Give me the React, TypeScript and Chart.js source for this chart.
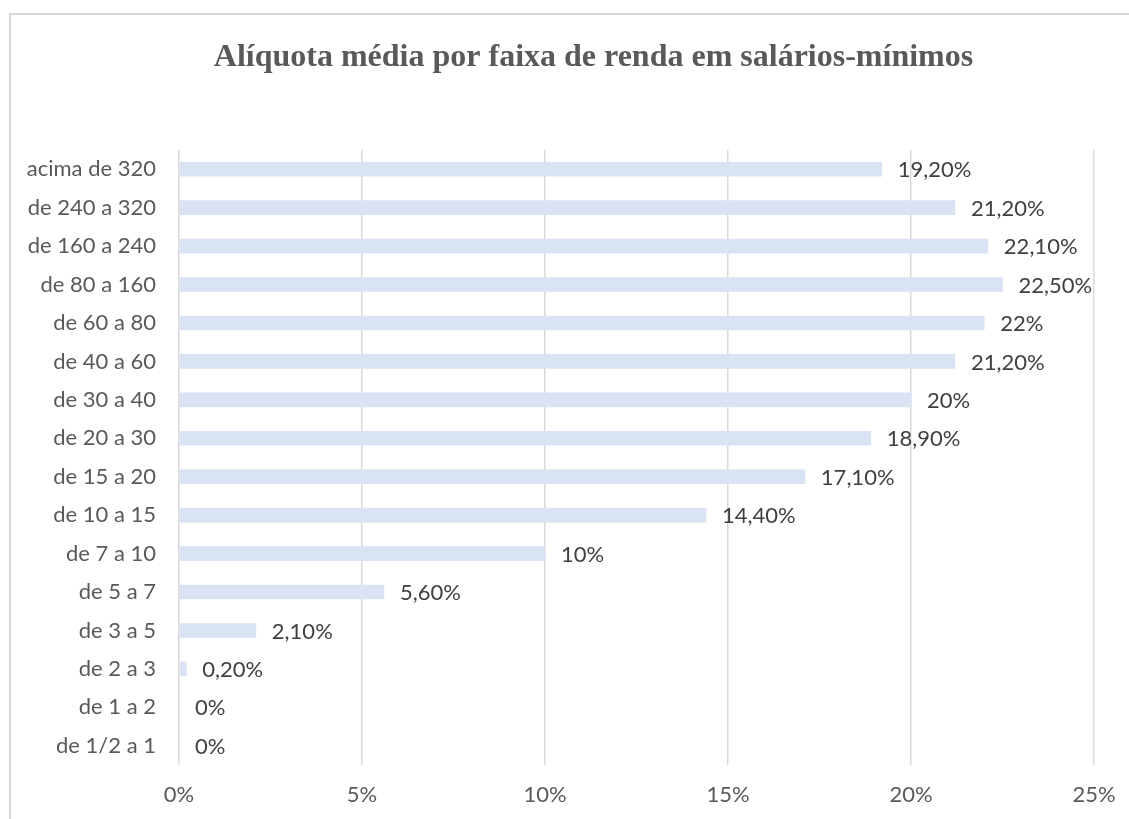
import React, { useEffect, useRef } from "react";
import { Chart, registerables } from "chart.js";

Chart.register(...registerables);

const TITLE = "Alíquota média por faixa de renda em salários-mínimos";

const categories: string[] = [
  "acima de 320",
  "de 240 a 320",
  "de 160 a 240",
  "de 80 a 160",
  "de 60 a 80",
  "de 40 a 60",
  "de 30 a 40",
  "de 20 a 30",
  "de 15 a 20",
  "de 10 a 15",
  "de 7 a 10",
  "de 5 a 7",
  "de 3 a 5",
  "de 2 a 3",
  "de 1 a 2",
  "de 1/2 a 1",
];

const values: number[] = [19.2, 21.2, 22.1, 22.5, 22, 21.2, 20, 18.9, 17.1, 14.4, 10, 5.6, 2.1, 0.2, 0, 0];

const X_MIN = 0;
const X_MAX = 25;
const X_STEP = 5;

const fmtValue = (v: number) =>
  Number.isInteger(v) ? `${v}%` : `${v.toFixed(2).replace(".", ",")}%`;

const LABEL_FONT = "Lato";
const TITLE_FONT = "bold 32px 'Liberation Serif', 'Times New Roman', serif";
const CANVAS_W = 1129;
const CANVAS_H = 819;

// Title is centred over the full (cropped) chart frame, as in the reference.
const titlePlugin = {
  id: "frameTitle",
  afterDraw(chart: any) {
    const ctx = chart.ctx as CanvasRenderingContext2D;
    ctx.save();
    ctx.font = TITLE_FONT;
    ctx.fillStyle = "#595959";
    ctx.textAlign = "center";
    ctx.textBaseline = "alphabetic";
    ctx.fillText(TITLE, 593.5, 66);
    ctx.restore();
  },
};

const dataLabelPlugin = {
  id: "dataLabels",
  afterDatasetsDraw(chart: any) {
    const ctx = chart.ctx as CanvasRenderingContext2D;
    const meta = chart.getDatasetMeta(0);
    ctx.save();
    ctx.font = `22px ${LABEL_FONT}`;
    ctx.fillStyle = "#404040";
    ctx.textAlign = "left";
    ctx.textBaseline = "middle";
    meta.data.forEach((bar: any, i: number) => {
      ctx.fillText(fmtValue(values[i]), bar.x + 16, bar.y + 1);
    });
    ctx.restore();
  },
};

export default function App() {
  const canvasRef = useRef<HTMLCanvasElement | null>(null);

  useEffect(() => {
    if (!canvasRef.current) return;
    const chart = new Chart(canvasRef.current, {
      type: "bar",
      data: {
        labels: categories,
        datasets: [
          {
            data: values,
            backgroundColor: "#dae3f3",
            borderWidth: 0,
            barThickness: 14,
          },
        ],
      },
      options: {
        indexAxis: "y",
        animation: false,
        responsive: false,
        maintainAspectRatio: false,
        layout: { padding: { left: 0, right: CANVAS_W - 1094, top: 150, bottom: 0 } },
        plugins: {
          legend: { display: false },
          tooltip: { enabled: false },
          title: { display: false },
        },
        scales: {
          x: {
            type: "linear",
            min: X_MIN,
            max: X_MAX,
            afterFit: (scale: any) => {
              scale.height = 54;
              scale.paddingLeft = 0;
              scale.paddingRight = 0;
            },
            ticks: {
              stepSize: X_STEP,
              padding: 17,
              color: "#595959",
              font: { family: LABEL_FONT, size: 22 },
              callback: (v: any) => `${v}%`,
            },
            grid: { color: "#d9d9d9", lineWidth: 1.5, drawTicks: false },
            border: { display: false },
          },
          y: {
            afterFit: (scale: any) => {
              scale.width = 179;
              scale.paddingTop = 0;
              scale.paddingBottom = 0;
            },
            ticks: {
              padding: 23,
              color: "#595959",
              font: { family: LABEL_FONT, size: 22 },
            },
            grid: { display: false, drawTicks: false },
            border: { display: false },
          },
        },
      },
      plugins: [dataLabelPlugin, titlePlugin],
    });
    return () => chart.destroy();
  }, []);

  return (
    <div
      style={{
        position: "fixed",
        left: 0,
        top: 0,
        width: 1129,
        height: 819,
        overflow: "hidden",
        background: "#ffffff",
      }}
    >
      <div
        style={{
          position: "absolute",
          left: 9,
          top: 13,
          width: 1300,
          height: 900,
          border: "2px solid #d9d9d9",
          boxSizing: "border-box",
        }}
      />
      <canvas
        ref={canvasRef}
        width={CANVAS_W}
        height={CANVAS_H}
        style={{ position: "absolute", left: 0, top: 0, width: CANVAS_W, height: CANVAS_H }}
      />
    </div>
  );
}
